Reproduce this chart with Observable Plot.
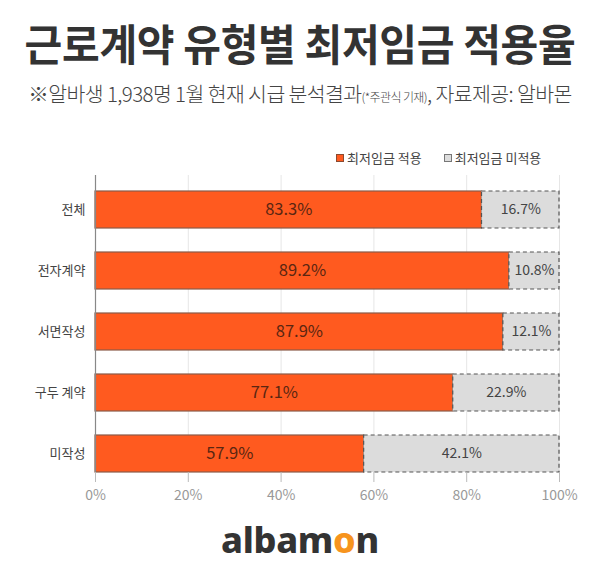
<!DOCTYPE html>
<html><head><meta charset="utf-8">
<script src="https://cdn.jsdelivr.net/npm/d3@7"></script>
<script src="https://cdn.jsdelivr.net/npm/@observablehq/plot@0.6"></script>
<style>
body{margin:0;background:#fff;font-family:"Noto Sans CJK KR","Noto Sans",sans-serif;}
#wrap{position:relative;width:600px;height:588px;overflow:hidden;}
.abs{position:absolute;left:0;width:600px;text-align:center;white-space:nowrap;}
#title{top:12px;font-size:41px;line-height:60px;font-weight:700;color:#333;letter-spacing:-0.3px;transform:scaleY(1.06);}
#sub{top:78px;font-size:20.5px;line-height:30px;color:#444;letter-spacing:-0.6px;font-weight:300;}
#sub small{font-size:12px;}
#legend{position:absolute;top:148px;left:336px;font-size:13px;line-height:20px;color:#444;display:flex;align-items:center;}
.sw{display:inline-block;width:8px;height:8px;margin-right:3px;box-sizing:border-box;}
#chart{position:absolute;top:140px;left:0;}
#logo{top:518px;font-family:"Noto Sans","DejaVu Sans",sans-serif;font-size:36px;line-height:44px;font-weight:800;color:#333;letter-spacing:-0.3px;}
</style></head>
<body><div id="wrap">
<div id="title" class="abs">근로계약 유형별 최저임금 적용율</div>
<div id="sub" class="abs">※알바생 1,938명 1월 현재 시급 분석결과<small>(*주관식 기재)</small>, 자료제공: 알바몬</div>
<div id="legend"><span class="sw" style="background:#FF5A1F;border:1px solid #8a4a30"></span>최저임금 적용<span style="width:22px;display:inline-block"></span><span class="sw" style="background:#ddd;border:1px solid #777"></span>최저임금 미적용</div>
<div id="chart"></div>
<div id="logo" class="abs">albam<span style="color:#F7941D">o</span>n</div>
</div>
<script>
const categories = ["전체","전자계약","서면작성","구두 계약","미작성"];
const applied = [83.3, 89.2, 87.9, 77.1, 57.9];
const notApplied = [16.7, 10.8, 12.1, 22.9, 42.1];
const seriesNames = ["최저임금 적용","최저임금 미적용"];
const xTicks = [0,20,40,60,80,100];

const rows = categories.map((c,i)=>({category:c, applied:applied[i], notApplied:notApplied[i]}));

const chart = Plot.plot({
  width:600, height:380,
  marginTop:35, marginBottom:48, marginLeft:95, marginRight:41,
  style:{fontFamily:'"Noto Sans CJK KR","Noto Sans",sans-serif', background:"transparent"},
  x:{domain:[0,100], ticks:xTicks, tickFormat:d=>d+"%", label:null},
  y:{domain:categories, paddingInner:0.4, paddingOuter:0.097, align:1, label:null},
  marks:[
    Plot.ruleX(xTicks, {stroke:"#e6e6e6", strokeWidth:1}),
    Plot.barX(rows, {y:"category", x1:0, x2:"applied", fill:"#FF5A1F", stroke:"#8a5a48", strokeWidth:1.2}),
    Plot.barX(rows, {y:"category", x1:"applied", x2:d=>d.applied+d.notApplied, fill:"#dcdcdc", stroke:"#555", strokeDasharray:"4,3", strokeWidth:1.2}),
    Plot.text(rows, {y:"category", x:d=>d.applied/2, text:d=>d.applied.toFixed(1)+"%", fill:"#5a2612", fontSize:16.5}),
    Plot.text(rows, {y:"category", x:d=>d.applied+d.notApplied/2, text:d=>d.notApplied.toFixed(1)+"%", fill:"#444", fontSize:14}),
    Plot.ruleX([0], {stroke:"#888", strokeWidth:1.2}),
    Plot.axisX({tickSize:10, ticks:xTicks, tickFormat:d=>d+"%", stroke:"#bbb", fill:"#999", fontSize:14, tickPadding:8, label:null}),
    Plot.axisY({tickSize:0, tickPadding:10, fontSize:13, fill:"#444", label:null})
  ]
});
document.getElementById("chart").appendChild(chart);
</script>
</body></html>
